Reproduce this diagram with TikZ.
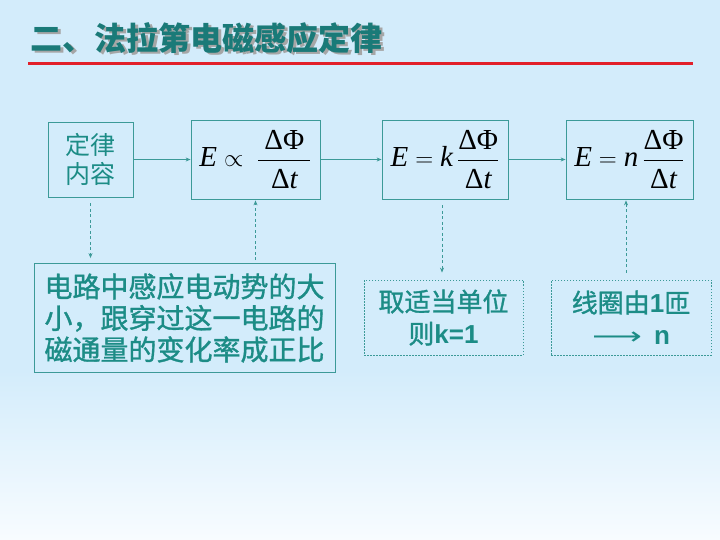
\documentclass[tikz,border=0pt]{standalone}
\usepackage{fontspec}
\setmainfont{Liberation Serif}
\newfontfamily\cjk{Noto Sans CJK SC}
\newfontfamily\cjkm[FakeBold=1.2]{Noto Sans CJK SC}
\newfontfamily\arialb{Liberation Sans}
\newfontfamily\dejavu{DejaVu Sans}
\usetikzlibrary{arrows.meta}
\definecolor{bgtop}{HTML}{D3ECFB}
\definecolor{bgbot}{HTML}{F8FCFF}
\definecolor{teal1}{HTML}{1C8C86}
\definecolor{titlec}{HTML}{1A7A78}
\definecolor{linec}{HTML}{3C9A98}
\definecolor{redl}{HTML}{E2202A}
\tikzset{
  box/.style={draw=linec, line width=0.8pt, inner sep=0pt},
  dbox/.style={draw=linec, line width=0.8pt, dash pattern=on 1.5pt off 1.5pt, inner sep=0pt},
  conn/.style={draw=linec, line width=0.8pt, -{Stealth[length=5pt,width=4pt]}},
  dconn/.style={conn, dash pattern=on 3pt off 2.5pt},
  frm/.style={font=\fontsize{29}{32}\selectfont, text=black},
}
\newcommand{\myfr}[1]{\frac{\rule[-5pt]{0pt}{10pt}\hspace{#1}\textrm{ΔΦ}\hspace{#1}}{\rule{0pt}{27pt}\textrm{Δ}\textit{t}}}
\begin{document}
\begin{tikzpicture}[x=1pt,y=-1pt]
\useasboundingbox (0,0) rectangle (720,540);
\fill[bgtop] (0,0) rectangle (720,371);
\shade[top color=bgtop, bottom color=bgbot] (0,370) rectangle (720,540);
% title
\node[anchor=west, text=gray!70, font=\cjk\bfseries\fontsize{32}{34}\selectfont] at (29.5,40) {二、法拉第电磁感应定律};
\node[anchor=west, text=titlec, font=\cjk\bfseries\fontsize{32}{34}\selectfont] (title) at (27,38) {二、法拉第电磁感应定律};
\coordinate (rl) at (28,64);
\coordinate (rr) at (693,64);
\draw[redl, line width=3pt] (rl) -- (rr);
% top boxes
\node[box, minimum width=85, minimum height=75, align=center, text=teal1,
  font=\cjk\fontsize{25}{30}\selectfont] (b1) at (90.5,159.5) {\raisebox{-3pt}{定律}\\\raisebox{-2pt}{内容}};
\node[box, frm, minimum width=129, minimum height=79] (b2) at (255.5,159.5)
  {$\displaystyle\textit{E}\propto\;\myfr{6pt}$};
\node[box, frm, minimum width=126, minimum height=79] (b3) at (445,159.5)
  {$\displaystyle\textit{E}=\textit{k}\,\myfr{0pt}$};
\node[box, frm, minimum width=127, minimum height=79] (b4) at (629.5,159.5)
  {$\displaystyle\textit{E}=\textit{n}\,\myfr{0pt}$};
% bottom boxes
\node[box, minimum width=301, minimum height=109, align=center, text=teal1,
  font=\cjkm\fontsize{28}{31.5}\selectfont] (b5) at (184.5,318)
  {电路中感应电动势的大\\小，跟穿过这一电路的\\磁通量的变化率成正比};
\node[dbox, minimum width=159, minimum height=75, align=center, text=teal1,
  font=\cjkm\fontsize{26}{32}\selectfont] (b6) at (443.5,317.5)
  {取适当单位\\则{\arialb\bfseries k=1}};
\node[dbox, minimum width=160, minimum height=75, align=center, text=teal1,
  font=\cjkm\fontsize{26}{32}\selectfont] (b7) at (631,317.5)
  {线圈由{\arialb\bfseries 1}匝\\{\dejavu\fontsize{24}{32}\selectfont\scalebox{1.45}[1]{⟶}}\hspace{12pt}{\arialb\bfseries n}\hspace{26pt}};
% connectors
\draw[conn] (b1) -- (b2);
\draw[conn] (b2) -- (b3);
\draw[conn] (b3) -- (b4);
\draw[dconn, shorten <=6pt, shorten >=5pt] (b1.south) -- (b1.south |- b5.north);
\draw[dconn, shorten <=3pt, shorten >=1pt] (b2.south |- b5.north) -- (b2.south);
\draw[dconn, shorten <=6pt, shorten >=7pt] ([xshift=-3pt]b3.south) -- ([xshift=-3pt]b3.south |- b6.north);
\draw[dconn, shorten <=7pt, shorten >=1pt] ([xshift=-3.5pt]b4.south |- b7.north) -- ([xshift=-3.5pt]b4.south);
\end{tikzpicture}
\end{document}
